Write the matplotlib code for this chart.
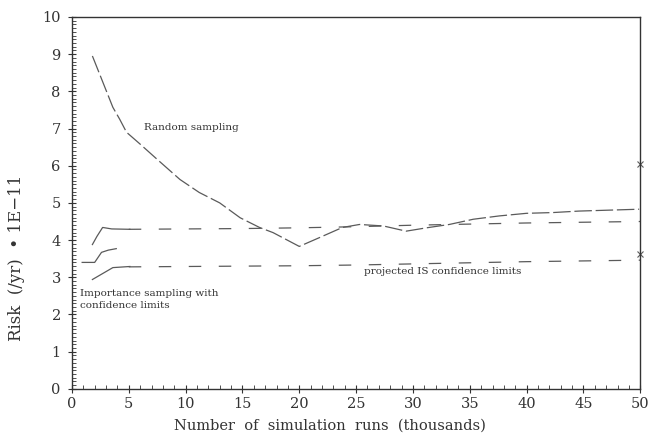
import matplotlib
matplotlib.use('Agg')
import matplotlib.pyplot as plt
from matplotlib.ticker import MultipleLocator

# random sampling estimate (thousands of runs, risk *1E-11)
rs_x = [1.8, 3.6, 4.2, 4.8, 6.0, 7.5, 9.5, 11.2, 13.0, 14.8, 16.5, 17.7, 20.0,
        21.8, 23.8, 25.3, 27.4, 29.4, 31.2, 33.2, 35.3, 37.6, 40.0, 42.3, 44.6, 49.9]
rs_y = [8.95, 7.57, 7.25, 6.9, 6.58, 6.17, 5.63, 5.28, 5.0, 4.6, 4.34, 4.2, 3.83,
        4.07, 4.34, 4.42, 4.38, 4.24, 4.33, 4.42, 4.56, 4.65, 4.72, 4.74, 4.78, 4.83]

# importance sampling estimate with confidence limits (early runs)
is_up_x = [1.8, 2.2, 2.7, 3.5, 5.1]
is_up_y = [3.88, 4.1, 4.34, 4.3, 4.29]
is_mid_x = [0.9, 2.0, 2.6, 3.2, 3.9]
is_mid_y = [3.4, 3.4, 3.67, 3.73, 3.77]
is_lo_x = [1.8, 2.7, 3.6, 5.1]
is_lo_y = [2.94, 3.1, 3.26, 3.29]

# projected IS confidence limits
proj_x = [5, 10, 15, 20, 25, 30, 35, 40, 45, 50]
proj_up = [4.29, 4.3, 4.31, 4.33, 4.36, 4.4, 4.43, 4.46, 4.48, 4.5]
proj_lo = [3.28, 3.29, 3.3, 3.31, 3.33, 3.36, 3.39, 3.42, 3.44, 3.46]

# random sampling limits at 50k runs
end_x = [50, 50]
end_y = [6.05, 3.62]

plt.rcParams['font.family'] = 'DejaVu Serif'
ink = '#333333'
line_c = '#5a5a5a'

fig = plt.figure(figsize=(6.54, 4.34), dpi=100)
ax = fig.add_axes([0.110, 0.104, 0.869, 0.857])

ax.plot(rs_x, rs_y, color=line_c, lw=0.9, dashes=(14, 3))
ax.plot(is_up_x, is_up_y, color=line_c, lw=0.9)
ax.plot(is_mid_x, is_mid_y, color=line_c, lw=0.9)
ax.plot(is_lo_x, is_lo_y, color=line_c, lw=0.9)
ax.plot(proj_x, proj_up, color=line_c, lw=0.9, dashes=(10, 14))
ax.plot(proj_x, proj_lo, color=line_c, lw=0.9, dashes=(10, 14))
ax.plot(end_x, end_y, 'x', color=line_c, ms=5, mew=0.8, clip_on=False)

ax.text(6.3, 6.95, 'Random sampling', fontsize=7.5, color=ink)
ax.text(0.7, 2.4, 'Importance sampling with\nconfidence limits', fontsize=7.5,
        color=ink, va='center', linespacing=1.5)
ax.text(25.7, 3.1, 'projected IS confidence limits', fontsize=7.5, color=ink)

ax.set_xlim(0, 50)
ax.set_ylim(0, 10)
ax.xaxis.set_major_locator(MultipleLocator(5))
ax.xaxis.set_minor_locator(MultipleLocator(1))
ax.yaxis.set_major_locator(MultipleLocator(1))
ax.yaxis.set_minor_locator(MultipleLocator(0.1))
ax.tick_params(which='major', direction='inout', length=6, width=0.8,
               labelsize=10.5, colors=ink, top=False, right=False)
ax.tick_params(which='minor', direction='in', length=3, width=0.6,
               colors=ink, top=False, right=False)
ax.tick_params(axis='x', pad=3)
ax.tick_params(axis='y', pad=5)
for s in ax.spines.values():
    s.set_color(ink)
    s.set_linewidth(1.0)

ax.set_xlabel('Number  of  simulation  runs  (thousands)', fontsize=10.5,
              color=ink)
ax.xaxis.set_label_coords(0.454, -0.08)
ax.set_ylabel('Risk  (/yr)  \u2022 1E\u221211', fontsize=12, color=ink)
ax.yaxis.set_label_coords(-0.083, 0.352)

fig.savefig('out.png', dpi=100, facecolor='white')
